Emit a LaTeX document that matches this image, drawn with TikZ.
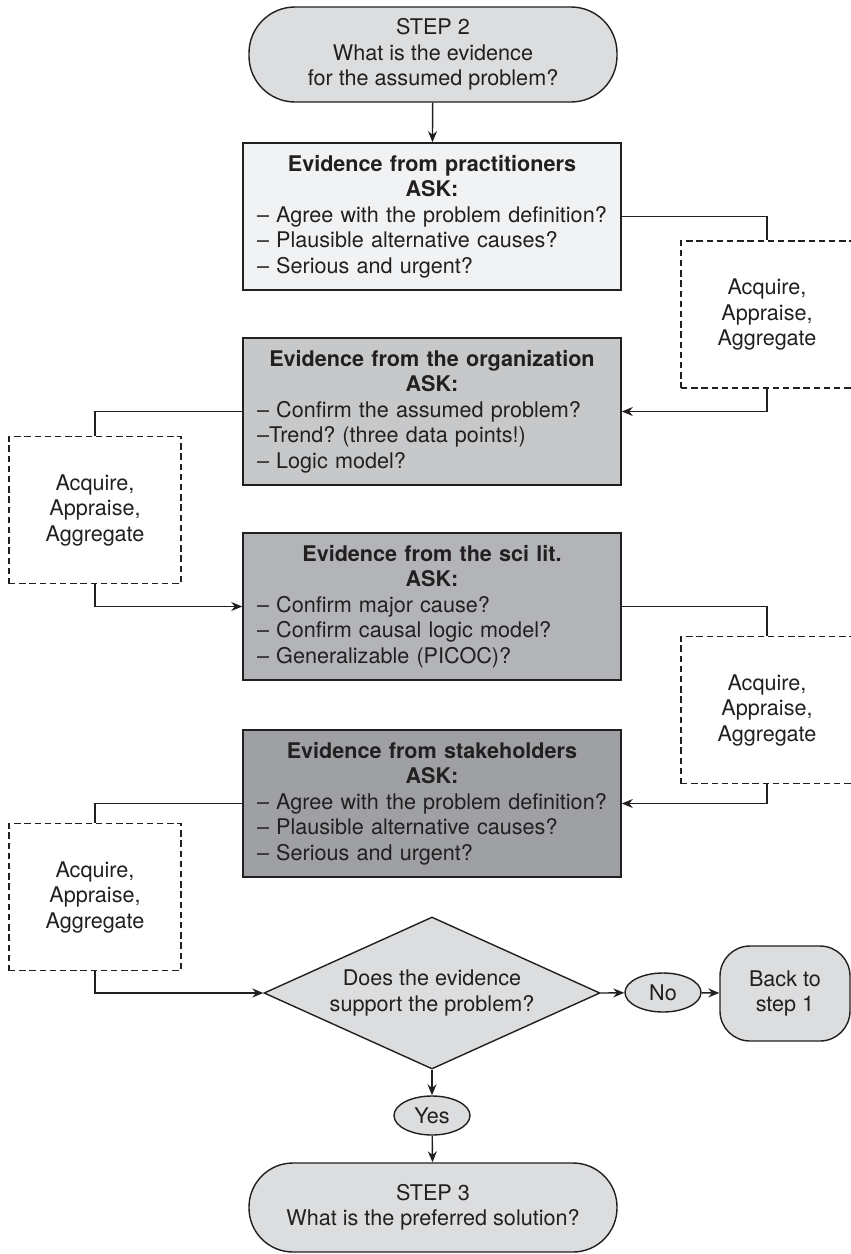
\documentclass[tikz,border=0pt]{standalone}
\usepackage{fontspec}
\setmainfont{TeX Gyre Heros}
\usepackage{tikz}
\usetikzlibrary{arrows.meta,shapes.geometric}
\frenchspacing
\definecolor{ink}{RGB}{35,31,32}
\definecolor{term}{RGB}{220,221,223}
\definecolor{lvla}{RGB}{241,242,244}
\definecolor{lvlb}{RGB}{199,200,202}
\definecolor{lvlc}{RGB}{179,180,183}
\definecolor{lvld}{RGB}{159,160,163}

\begin{document}
\begin{tikzpicture}[x=0.5pt, y=-0.5pt,
  every node/.style={font=\fontsize{10.8pt}{12.75pt}\selectfont, text=ink},
  terminal/.style={draw=ink, line width=0.7pt, fill=term, rectangle, rounded corners=23pt,
    minimum width=184pt, minimum height=47.5pt, align=center, inner sep=0pt},
  askbox/.style={draw=ink, line width=0.8pt, rectangle, text width=175pt, inner xsep=7pt,
    inner ysep=0pt, minimum height=73.5pt, align=left},
  loopbox/.style={draw=ink, line width=0.6pt, dash pattern=on 3.2pt off 1.9pt, rectangle,
    minimum width=86pt, minimum height=73.5pt, align=center, inner sep=0pt},
  answer/.style={draw=ink, line width=0.7pt, fill=term, ellipse, minimum width=38pt,
    minimum height=19.5pt, inner sep=0pt},
  flow/.style={ink, line width=0.7pt, -{Stealth[length=5.5pt,width=4.5pt]}},
  link/.style={ink, line width=0.7pt}]
\useasboundingbox (0,0) rectangle (851,1254);
% ---- main column
\node[terminal] (step2) at (433,54.5) {STEP 2\\What is the evidence\\for the assumed problem?};
\node[askbox, fill=lvla] (prac) at (432,216.5)
  {{\centering\bfseries Evidence from practitioners\\ASK:\par}– Agree with the problem definition?\\– Plausible alternative causes?\\– Serious and urgent?};
\node[askbox, fill=lvlb] (org) at (432,411.5)
  {{\centering\bfseries Evidence from the organization\\ASK:\par}– Confirm the assumed problem?\\–Trend? (three data points!)\\– Logic model?};
\node[askbox, fill=lvlc] (lit) at (432,606.5)
  {{\centering\bfseries Evidence from the sci lit.\\ASK:\par}– Confirm major cause?\\– Confirm causal logic model?\\– Generalizable (PICOC)?};
\node[askbox, fill=lvld] (stake) at (432,803.5)
  {{\centering\bfseries Evidence from stakeholders\\ASK:\par}– Agree with the problem definition?\\– Plausible alternative causes?\\– Serious and urgent?};
% ---- the side loops
\node[loopbox] (aaa1) at (767,314.5) {Acquire,\\Appraise,\\Aggregate};
\node[loopbox] (aaa2) at (95,510) {Acquire,\\Appraise,\\Aggregate};
\node[loopbox] (aaa3) at (767,710) {Acquire,\\Appraise,\\Aggregate};
\node[loopbox] (aaa4) at (95,897) {Acquire,\\Appraise,\\Aggregate};
% ---- decision
\node[draw=ink, line width=0.7pt, fill=term, diamond, aspect=2.2, minimum width=168pt,
  minimum height=76pt, inner sep=0pt, align=center] (dec) at (432,993)
  {Does the evidence\\support the problem?};
\node[answer] (no) at (663,992.5) {No};
\node[draw=ink, line width=0.7pt, fill=term, rectangle, rounded corners=15pt, minimum width=65pt,
  minimum height=47.5pt, align=center, inner sep=0pt] (back) at (785,993.5) {Back to\\step 1};
\node[answer] (yes) at (432,1115.5) {Yes};
\node[terminal, minimum height=44.5pt, rounded corners=22pt] (step3) at (433,1207.5)
  {STEP 3\\What is the preferred solution?};
% ---- connectors
\draw[flow] (step2) -- (prac);
\draw[link] (prac.east) -| (aaa1.north);
\draw[flow] (aaa1.south) |- (org.east);
\draw[link] (org.west) -| (aaa2.north);
\draw[flow] (aaa2.south) |- (lit.west);
\draw[link] (lit.east) -| (aaa3.north);
\draw[flow] (aaa3.south) |- (stake.east);
\draw[link] (stake.west) -| (aaa4.north);
\draw[flow] (aaa4.south) |- (dec.west);
\draw[flow] (dec.east) -- (no);
\draw[flow] (no) -- (back);
\draw[flow] (dec.south) -- (yes);
\draw[flow] (yes) -- (step3);
\end{tikzpicture}
\end{document}
